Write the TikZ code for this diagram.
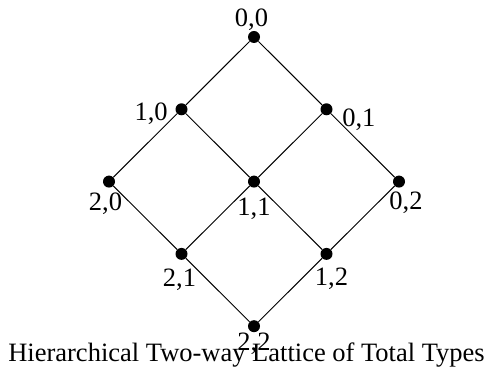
\documentclass[tikz,border=0pt]{standalone}
\usepackage{fontspec}
\setmainfont{Liberation Serif}
\usetikzlibrary{positioning}

\begin{document}
\begin{tikzpicture}[x=1pt, y=-1pt,
    dot/.style={circle, fill=black, inner sep=0pt, minimum size=12pt},
    lbl/.style={inner sep=0pt, font=\fontsize{26.5}{30}\selectfont},
    link/.style={draw, line width=1pt}]
  \useasboundingbox (0,0) rectangle (496,371);
  % lattice points (i,j)
  \foreach \i in {0,1,2}
    \foreach \j in {0,1,2}
      \node[dot] (n\i\j) at ({254+72.5*(\j-\i)}, {37+72.3*(\i+\j)}) {};
  % covering relations
  \foreach \i/\k in {0/1,1/2}
    \foreach \j in {0,1,2} {
      \draw[link] (n\i\j) -- (n\k\j);
      \draw[link] (n\j\i) -- (n\j\k);
    }
  % type labels
  \node[lbl, above=0pt of n00, xshift=-2.5pt] (l00) {0,0};
  \node[lbl, left=7.4pt of n10, yshift=-4.5pt] (l10) {1,0};
  \node[lbl, right=9.4pt of n01, yshift=-10.5pt] (l01) {0,1};
  \node[lbl, below=5pt of n20, xshift=-3.5pt] (l20) {2,0};
  \node[lbl, below=10pt of n11] (l11) {1,1};
  \node[lbl, below=4pt of n02, xshift=7pt] (l02) {0,2};
  \node[lbl, below=9pt of n21, xshift=-2pt] (l21) {2,1};
  \node[lbl, below=8pt of n12, xshift=5pt] (l12) {1,2};
  \node[lbl, below=0pt of n22] (l22) {2,2};
  \node[lbl, anchor=base] (title) at (246.5,362) {Hierarchical Two-way Lattice of Total Types};
\end{tikzpicture}
\end{document}
